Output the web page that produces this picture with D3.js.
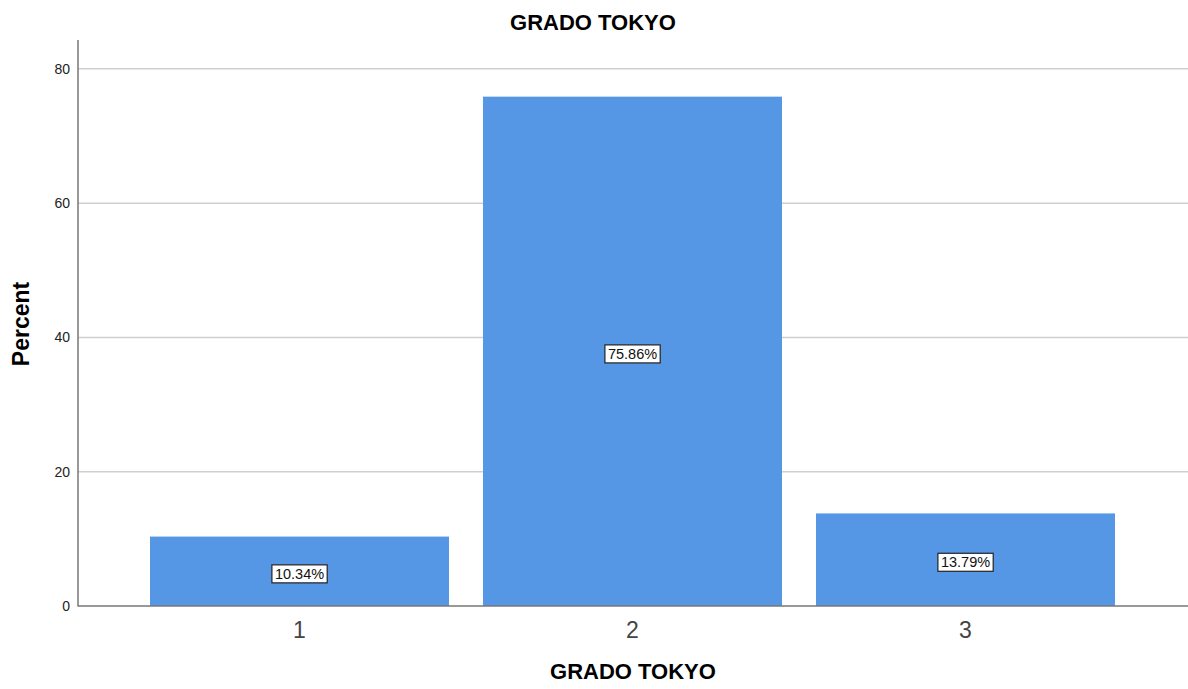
<!DOCTYPE html>
<html><head><meta charset="utf-8">
<script src="https://cdn.jsdelivr.net/npm/d3@7"></script>
<style>body{margin:0;background:#fff}svg{display:block}</style>
</head><body>
<script>
const categories = ["1", "2", "3"];
const percents = [10.34, 75.86, 13.79];
const yTicks = [0, 20, 40, 60, 80];
const title = "GRADO TOKYO";
const xTitle = "GRADO TOKYO";
const yTitle = "Percent";

const W = 1188, H = 689;
const svg = d3.select("body").append("svg").attr("width", W).attr("height", H);
const font = "Arial, 'Liberation Sans', sans-serif";

const x0 = 78, x1 = 1188, yBot = 606, yTop = 40;
const y = d3.scaleLinear().domain([0, 84.3]).range([yBot, yTop]);
const x = d3.scaleBand().domain(categories).range([133, 1132]).paddingInner(0.1021).paddingOuter(0.05105);

// gridlines
svg.append("g").selectAll("line").data(yTicks.filter(d => d > 0)).join("line")
  .attr("x1", x0).attr("x2", x1).attr("y1", d => y(d)).attr("y2", d => y(d))
  .attr("stroke", "#cfcfcf").attr("stroke-width", 1.5);

// bars
svg.append("g").selectAll("rect").data(percents).join("rect")
  .attr("x", (d, i) => x(categories[i])).attr("width", x.bandwidth())
  .attr("y", d => y(d)).attr("height", d => yBot - y(d))
  .attr("fill", "#5596e5");

// y axis
const yAxis = svg.append("g").attr("transform", `translate(${x0},0)`)
  .call(d3.axisLeft(y).tickValues(yTicks).tickSize(0).tickPadding(8));
yAxis.select(".domain").remove();
yAxis.selectAll("text").attr("font-family", font).attr("font-size", 14).attr("fill", "#222");
svg.append("line").attr("x1", x0).attr("x2", x0).attr("y1", yTop).attr("y2", yBot + 0.5)
  .attr("stroke", "#777").attr("stroke-width", 1.5);

// x axis
const xAxis = svg.append("g").attr("transform", `translate(0,${yBot})`)
  .call(d3.axisBottom(x).tickSize(0).tickPadding(16));
xAxis.select(".domain").remove();
xAxis.selectAll("text").attr("font-family", font).attr("font-size", 23).attr("fill", "#444");
svg.append("line").attr("x1", x0).attr("x2", x1).attr("y1", yBot).attr("y2", yBot)
  .attr("stroke", "#777").attr("stroke-width", 1.5);

// labels
const lg = svg.append("g").selectAll("g").data(percents).join("g")
  .attr("transform", (d, i) => `translate(${x(categories[i]) + x.bandwidth() / 2},${(y(d) + yBot) / 2 + 2.5})`);
lg.append("text").attr("text-anchor", "middle").attr("dy", "0.35em")
  .attr("font-family", font).attr("font-size", 14.5).attr("fill", "#111")
  .text(d => d.toFixed(2) + "%")
  .each(function () {
    const b = this.getBBox();
    d3.select(this.parentNode).insert("rect", "text")
      .attr("x", b.x - 3).attr("y", b.y - 1).attr("width", b.width + 6).attr("height", b.height + 2)
      .attr("fill", "#fff").attr("stroke", "#222").attr("stroke-width", 1.2);
  });

// titles
svg.append("text").attr("x", 593).attr("y", 29.5).attr("text-anchor", "middle")
  .attr("font-family", font).attr("font-weight", "bold").attr("font-size", 22).text(title);
svg.append("text").attr("x", 633).attr("y", 679).attr("text-anchor", "middle")
  .attr("font-family", font).attr("font-weight", "bold").attr("font-size", 22).text(xTitle);
svg.append("text").attr("transform", "translate(29,324) rotate(-90)").attr("text-anchor", "middle")
  .attr("font-family", font).attr("font-weight", "bold").attr("font-size", 23).text(yTitle);
</script>
</body></html>
